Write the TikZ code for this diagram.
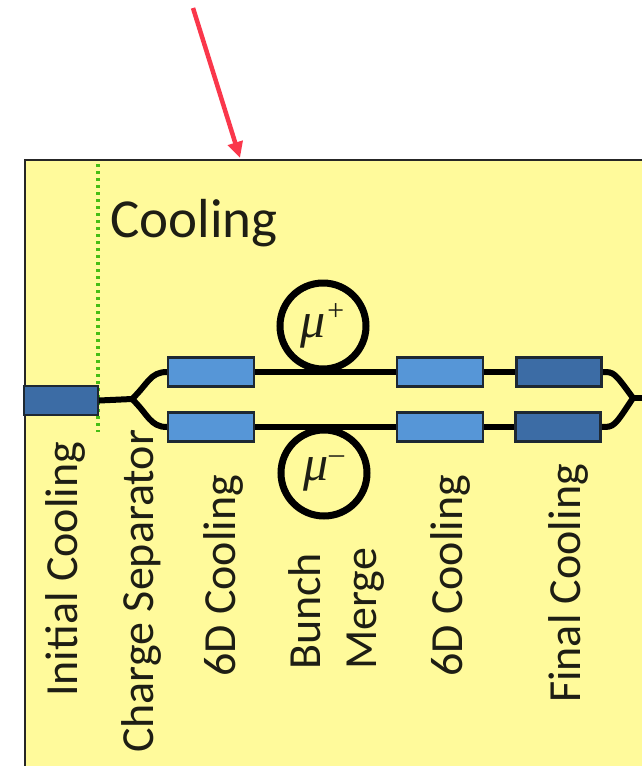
\documentclass[tikz,border=0pt]{standalone}
\usepackage{fontspec}
\setmainfont{Carlito}
\newfontfamily\muserif{Liberation Serif}
\usetikzlibrary{arrows.meta}
\definecolor{yellowbg}{RGB}{255,250,155}
\definecolor{lightblue}{RGB}{86,150,215}
\definecolor{darkblue}{RGB}{60,108,165}
\definecolor{edge}{RGB}{30,40,50}
\definecolor{greendot}{RGB}{70,190,20}
\definecolor{arrowred}{RGB}{250,55,75}
\definecolor{txt}{RGB}{30,30,20}
\newcommand{\muchg}[1]{{\fontsize{50}{56}\selectfont\muserif\itshape μ}\raisebox{17pt}{\fontsize{30}{34}\selectfont\muserif\itshape #1}}
\begin{document}
\begin{tikzpicture}[x=1pt,y=-1pt,
  lbl/.style={rotate=90,anchor=base west,inner sep=0pt,font=\fontsize{46}{56}\selectfont,text=txt},
  lightbox/.style={draw=edge,line width=2.2pt,fill=lightblue,minimum width=86pt,minimum height=29pt,inner sep=0pt},
  darkbox/.style={draw=edge,line width=2.2pt,fill=darkblue,minimum width=85pt,minimum height=29pt,inner sep=0pt},
  beam/.style={line width=6pt,black},
  ring/.style={circle,draw=black,line width=7pt,minimum size=86pt,inner sep=0pt,text=txt}]
\useasboundingbox (0,0) rectangle (641,766);
% panel
\draw[draw=black!85,line width=2pt,fill=yellowbg] (25,160) rectangle (680,800);
% red arrow
\coordinate (ar0) at (193,8);
\coordinate (ar1) at (240,158);
\draw[arrowred,line width=4.5pt,-{Triangle[length=16pt,width=15pt]}] (ar0) -- (ar1);
% green dotted separator
\draw[greendot,line width=4pt,dash pattern=on 3pt off 4pt] (98,164) -- (98,432);
% title
\node[anchor=base west,inner sep=0pt,font=\fontsize{55}{66}\selectfont,text=txt] (title) at (110,237) {Cooling};
% blocks
\node[darkbox,minimum width=74pt] (init) at (61,400.5) {};
\coordinate (fork) at (132,399);
\node[lightbox] (t1) at (211,372) {};
\node[lightbox] (b1) at (211,427) {};
\node[lightbox] (t2) at (440,372) {};
\node[lightbox] (b2) at (440,427) {};
\node[darkbox] (t3) at (559,372) {};
\node[darkbox] (b3) at (558,427) {};
\coordinate (merge) at (633,398);
\coordinate (exit) at (650,398);
% beams
\draw[beam] (init.east) -- (fork);
\draw[beam] (fork) .. controls (148,384) and (150,372) .. (t1.west);
\draw[beam] (fork) .. controls (148,414) and (150,427) .. (b1.west);
\draw[beam] (t1.east) -- (t2.west);
\draw[beam] (b1.east) -- (b2.west);
\draw[beam] (t2.east) -- (t3.west);
\draw[beam] (b2.east) -- (b3.west);
\draw[beam] (t3.east) .. controls (614,372) .. (merge);
\draw[beam] (b3.east) .. controls (614,427) .. (merge);
\draw[beam] (merge) -- (exit);
% redraw boxes on top
\node[darkbox,minimum width=74pt] at (init) {};
\node[lightbox] at (t1) {};
\node[lightbox] at (b1) {};
\node[lightbox] at (t2) {};
\node[lightbox] at (b2) {};
\node[darkbox] at (t3) {};
\node[darkbox] at (b3) {};
% rings
\node[ring] (mup) at (323,326) {\muchg{+}};
\node[ring] (mum) at (324,473) {\muchg{–}};
% labels
\node[lbl] (l1) at (77,697) {Initial Cooling};
\node[lbl] (l2) at (153,753) {Charge Separator};
\node[lbl] (l3) at (235,677) {6D Cooling};
\node[lbl] (l4a) at (320,670) {Bunch};
\node[lbl] (l4b) at (376,670) {Merge};
\node[lbl] (l5) at (462,677) {6D Cooling};
\node[lbl] (l6) at (580,703) {Final Cooling};
\end{tikzpicture}
\end{document}
